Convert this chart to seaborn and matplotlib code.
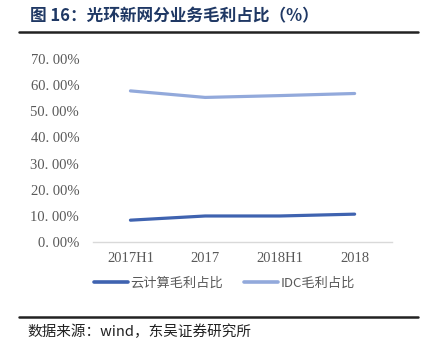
import numpy as np
import pandas as pd
import matplotlib
matplotlib.use("Agg")
import matplotlib.pyplot as plt
import seaborn as sns

periods = ["2017H1", "2017", "2018H1", "2018"]
cloud_share = [0.084, 0.100, 0.100, 0.107]
idc_share = [0.578, 0.553, 0.560, 0.568]
series_names = ["云计算毛利占比", "IDC毛利占比"]
colors = ["#3F63B0", "#92A9DB"]

df = pd.DataFrame({
    "x": list(range(len(periods))) * 2,
    "value": cloud_share + idc_share,
    "series": [series_names[0]] * 4 + [series_names[1]] * 4,
})

sns.set_theme(style="white")
plt.rcParams["font.family"] = ["Noto Sans CJK SC", "DejaVu Sans"]

fig = plt.figure(figsize=(4.27, 3.53), dpi=100)
ax = fig.add_axes([0.218, 0.314, 0.700, 0.519])

sns.lineplot(data=df, x="x", y="value", hue="series", palette=colors,
             linewidth=2.3, ax=ax, legend=False)

yt = np.arange(0, 0.71, 0.1)
ax.set_xlim(-0.5, 3.5)
ax.set_ylim(0, 0.7)
ax.set_yticks(yt)
ax.set_yticklabels([f"{v*100:.2f}%".replace(".", ". ") for v in yt],
                   family="Liberation Serif", fontsize=10.5, color="#595959")
ax.set_xticks(range(len(periods)))
ax.set_xticklabels(periods, family="Liberation Serif", fontsize=10.5, color="#595959")
ax.tick_params(axis="x", length=0, pad=7)
ax.tick_params(axis="y", length=0, pad=10)
ax.set_xlabel("")
ax.set_ylabel("")
for s in ["top", "right", "left"]:
    ax.spines[s].set_visible(False)
ax.spines["bottom"].set_color("#D9D9D9")
ax.spines["bottom"].set_linewidth(1)

handles = [plt.Line2D([], [], color=c, lw=2.6) for c in colors]
fig.legend(handles, series_names, loc="center", bbox_to_anchor=(0.525, 0.198),
           ncol=2, frameon=False, fontsize=9.5, handlelength=2.6,
           handletextpad=0.15, columnspacing=1.6, labelcolor="#595959")

fig.text(0.07, 0.955, "图 16：光环新网分业务毛利占比（%）", fontsize=12,
         fontweight="bold", color="#1F3864", va="center")
fig.add_artist(plt.Line2D([0.045, 0.98], [0.91, 0.91], color="#222222", lw=1.8))
fig.add_artist(plt.Line2D([0.045, 0.98], [0.102, 0.102], color="#222222", lw=1.8))
fig.text(0.065, 0.06, "数据来源：wind，东吴证券研究所", fontsize=10.5,
         color="#222222", va="center")

fig.savefig("out.png", dpi=100)
